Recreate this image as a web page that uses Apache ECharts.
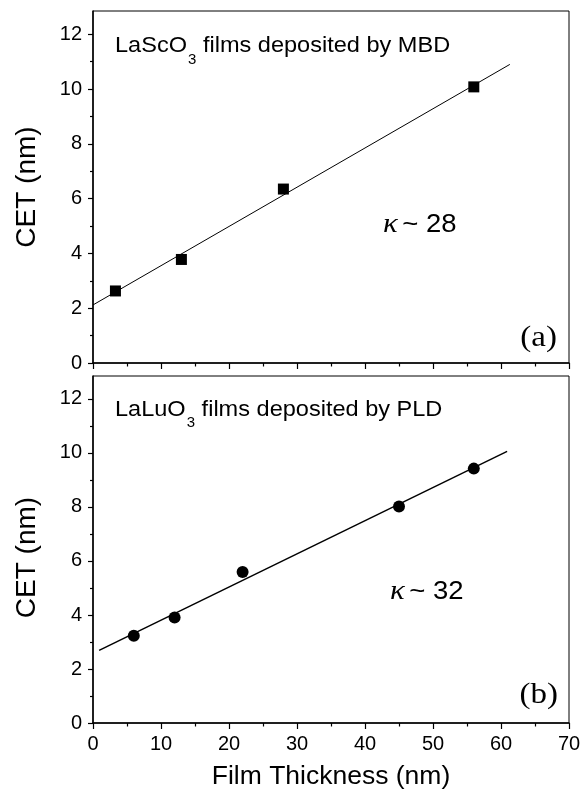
<!DOCTYPE html>
<html><head><meta charset="utf-8">
<script src="https://cdn.jsdelivr.net/npm/echarts@6/dist/echarts.min.js"></script>
<style>html,body{margin:0;padding:0;background:#fff}#c{width:581px;height:791px}</style>
</head><body><div id="c"></div>
<script>
// ---- data ----
const lascoThickness = [3.3, 13, 28, 56];
const lascoCET = [2.63, 3.78, 6.35, 10.08];
const lascoFitThickness = [0, 61.3];
const lascoFitCET = [2.12, 10.9];

const laluoThickness = [6, 12, 22, 45, 56];
const laluoCET = [3.23, 3.91, 5.59, 8.02, 9.42];
const laluoFitThickness = [0.9, 60.9];
const laluoFitCET = [2.69, 10.06];

const yMajorTicks = [0, 2, 4, 6, 8, 10, 12];
const yMinorTicks = [1, 3, 5, 7, 9, 11];

const zip = (xs, ys) => xs.map((x, i) => [x, ys[i]]);

const SANS = "'Liberation Sans', Arial, Helvetica, sans-serif";
const SERIF = "'Liberation Serif', 'Times New Roman', serif";
const BLACK = '#000';

function xAxis(gi, withLabels) {
  return {
    type: 'value', gridIndex: gi, min: 0, max: 70, interval: 10,
    axisLine: { show: true, onZero: false, lineStyle: { color: BLACK, width: 1.5 } },
    axisTick: { show: true, inside: false, length: 6, lineStyle: { color: BLACK, width: 1.2 } },
    minorTick: { show: true, splitNumber: 2, length: 3.5, lineStyle: { color: BLACK, width: 1.2 } },
    axisLabel: { show: withLabels, color: BLACK, fontSize: 20, fontFamily: SANS, margin: 11 },
    splitLine: { show: false }, minorSplitLine: { show: false },
    name: withLabels ? 'Film Thickness (nm)' : '',
    nameLocation: 'middle', nameGap: 40,
    nameTextStyle: { color: BLACK, fontSize: 26.5, fontFamily: SANS }
  };
}
function yMajor(gi, namePad) {
  return {
    type: 'value', gridIndex: gi, position: 'left', min: 0, max: 12.85, interval: 2,
    axisLine: { show: true, onZero: false, lineStyle: { color: BLACK, width: 1.5 } },
    axisTick: { show: true, inside: false, length: 5, customValues: yMajorTicks, lineStyle: { color: BLACK, width: 1.2 } },
    axisLabel: { show: true, customValues: yMajorTicks, color: BLACK, fontSize: 20, fontFamily: SANS, margin: 11 },
    splitLine: { show: false },
    name: 'CET (nm)', nameLocation: 'middle', nameGap: 52,
    nameTextStyle: { color: BLACK, fontSize: 28, fontFamily: SANS, padding: namePad }
  };
}
function yMinor(gi) {
  return {
    type: 'value', gridIndex: gi, position: 'left', min: 0, max: 12.85, interval: 2,
    axisLine: { show: false },
    axisTick: { show: true, inside: false, length: 3, customValues: yMinorTicks, lineStyle: { color: BLACK, width: 1.2 } },
    axisLabel: { show: false },
    splitLine: { show: false }
  };
}

function label(x, y, main1, sub, main2, pad) {
  return {
    type: 'text', x: x, y: y, z: 100, scaleX: 1.07,
    style: {
      text: '{a|' + main1 + '}{s|' + sub + '}{a|' + main2 + '}',
      align: 'left', verticalAlign: 'top', fill: BLACK,
      rich: {
        a: { fontSize: 22, lineHeight: 22, fontFamily: SANS, fill: BLACK, verticalAlign: 'top' },
        s: { fontSize: 14, lineHeight: 14, fontFamily: SANS, fill: BLACK, verticalAlign: 'top', padding: [pad, 0, 0, 1] }
      }
    }
  };
}
function kappa(x, y, value) {
  return {
    type: 'text', x: x, y: y, z: 100, scaleX: 1.1,
    style: {
      text: '{k|κ}{t|~ ' + value + '}',
      align: 'left', verticalAlign: 'middle', fill: BLACK,
      rich: {
        k: { fontSize: 28, fontFamily: SERIF, fontStyle: 'italic', fill: BLACK, padding: [0, 4, 0, 0] },
        t: { fontSize: 25, fontFamily: SANS, fill: BLACK }
      }
    }
  };
}
function panelTag(x, y, t) {
  return {
    type: 'text', x: x, y: y, z: 100, scaleX: 1.1,
    style: { text: t, align: 'right', verticalAlign: 'middle', fill: BLACK, fontSize: 30, fontFamily: SERIF }
  };
}

const chart = echarts.init(document.getElementById('c'), null, { renderer: 'canvas' });
chart.setOption({
  backgroundColor: '#fff',
  animation: false,
  grid: [
    { left: 93, top: 11, width: 476, height: 352, show: true, borderColor: BLACK, borderWidth: 1,
      containLabel: false, outerBoundsMode: 'none' },
    { left: 93, top: 376, width: 476, height: 347, show: true, borderColor: BLACK, borderWidth: 1,
      containLabel: false, outerBoundsMode: 'none' }
  ],
  xAxis: [xAxis(0, false), xAxis(1, true)],
  yAxis: [yMajor(0, 0), yMinor(0), yMajor(1, [0, 16, 0, 0]), yMinor(1)],
  series: [
    { type: 'line', xAxisIndex: 0, yAxisIndex: 0, data: zip(lascoFitThickness, lascoFitCET),
      symbol: 'none', lineStyle: { color: BLACK, width: 1 }, z: 2 },
    { type: 'scatter', xAxisIndex: 0, yAxisIndex: 0, data: zip(lascoThickness, lascoCET),
      symbol: 'rect', symbolSize: 11, itemStyle: { color: BLACK, opacity: 1 }, z: 3 },
    { type: 'line', xAxisIndex: 1, yAxisIndex: 2, data: zip(laluoFitThickness, laluoFitCET),
      symbol: 'none', lineStyle: { color: BLACK, width: 1.5 }, z: 2 },
    { type: 'scatter', xAxisIndex: 1, yAxisIndex: 2, data: zip(laluoThickness, laluoCET),
      symbol: 'circle', symbolSize: 12, itemStyle: { color: BLACK, opacity: 1 }, z: 3 }
  ],
  graphic: [
    label(115, 34.5, 'LaScO', '3', ' films deposited by MBD', 19),
    label(115, 399.3, 'LaLuO', '3', ' films deposited by PLD', 17),
    kappa(383, 225, '28'),
    kappa(390, 592, '32'),
    panelTag(557, 338, '(a)'),
    panelTag(558, 695.5, '(b)')
  ]
});
</script>
</body></html>
